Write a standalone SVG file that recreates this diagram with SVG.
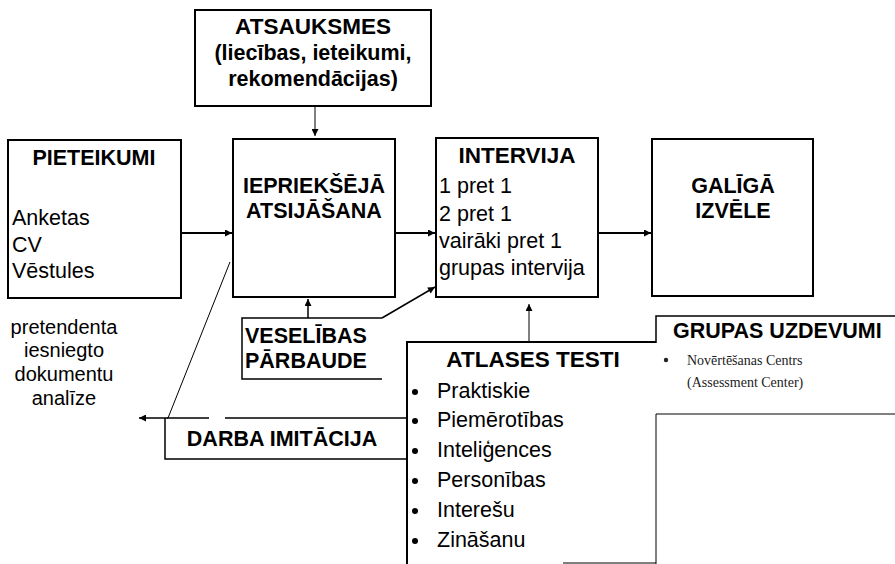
<svg xmlns="http://www.w3.org/2000/svg" width="895" height="564" viewBox="0 0 895 564">
<defs>
<style>
text{font-family:"Liberation Sans",Arial,sans-serif;fill:#000}
.b{font-weight:bold;font-size:21.5px}
.bl{font-weight:bold;font-size:22.5px}
.r{font-size:21.5px}
.rs{font-size:20px}
.c{text-anchor:middle}
.box{fill:#fff;stroke:#000;stroke-width:2}
.ln{fill:none;stroke:#000}
.sm{font-family:"Liberation Serif","Times New Roman",serif;font-size:14px;fill:#222}
</style>
<marker id="ah" viewBox="0 0 10 10" refX="10" refY="5" markerWidth="9" markerHeight="7" markerUnits="userSpaceOnUse" orient="auto"><path d="M0,0 L10,5 L0,10 z" fill="#000"/></marker>
</defs>
<rect width="895" height="564" fill="#fff"/>

<g id="atsauksmes">
<rect class="box" x="195" y="10" width="236" height="96"/>
<text class="bl c" x="313" y="34">ATSAUKSMES</text>
<text class="b c" x="313" y="60">(liecības, ieteikumi,</text>
<text class="b c" x="313" y="86">rekomendācijas)</text>
</g>

<g id="pieteikumi">
<rect class="box" x="8" y="140" width="173" height="158"/>
<text class="b c" x="94" y="165">PIETEIKUMI</text>
<text class="r" x="12" y="225">Anketas</text>
<text class="r" x="12" y="252">CV</text>
<text class="r" x="12" y="278">Vēstules</text>
</g>

<g id="iepriekseja">
<rect class="box" x="233" y="139" width="162" height="158"/>
<text class="b c" x="314" y="193">IEPRIEKŠĒJĀ</text>
<text class="b c" x="314" y="218">ATSIJĀŠANA</text>
</g>

<g id="intervija">
<rect class="box" x="436" y="138" width="162" height="159"/>
<text class="bl c" x="517" y="163">INTERVIJA</text>
<text class="r" x="439" y="193">1 pret 1</text>
<text class="r" x="439" y="221">2 pret 1</text>
<text class="r" x="439" y="248">vairāki pret 1</text>
<text class="r" x="439" y="275">grupas intervija</text>
</g>

<g id="galiga">
<rect class="box" x="652" y="139" width="161" height="157"/>
<text class="b c" x="733" y="193">GALĪGĀ</text>
<text class="b c" x="733" y="218">IZVĒLE</text>
</g>

<g id="veselibas">
<path class="ln" stroke-width="1.5" d="M382,318 H242 V379 H382"/>
<text class="b" x="245" y="343">VESELĪBAS</text>
<text class="b" x="245" y="368">PĀRBAUDE</text>
</g>

<g id="analize">
<text class="rs c" x="64" y="334">pretendenta</text>
<text class="rs c" x="64" y="357">iesniegto</text>
<text class="rs c" x="64" y="381">dokumentu</text>
<text class="rs c" x="64" y="405">analīze</text>
</g>

<g id="darba">
<path class="ln" stroke-width="1.5" d="M167,418 H209 M225,418 H407 M165,418 V459 H407"/>
<text class="b c" x="282" y="446">DARBA IMITĀCIJA</text>
</g>

<g id="atlases">
<path class="ln" stroke-width="2" d="M407,564 V342 H656"/>
<path class="ln" stroke-width="1" d="M563,563 H656"/>
<text class="bl c" x="533" y="367">ATLASES TESTI</text>
<circle cx="415" cy="392" r="3"/>
<text class="r" x="437" y="398">Praktiskie</text>
<circle cx="415" cy="421" r="3"/>
<text class="r" x="437" y="427">Piemērotības</text>
<circle cx="415" cy="451" r="3"/>
<text class="r" x="437" y="457">Inteliģences</text>
<circle cx="415" cy="481" r="3"/>
<text class="r" x="437" y="487">Personības</text>
<circle cx="415" cy="511" r="3"/>
<text class="r" x="437" y="517">Interešu</text>
<circle cx="415" cy="541" r="3"/>
<text class="r" x="437" y="547">Zināšanu</text>
</g>

<g id="grupas">
<path class="ln" stroke-width="1.5" d="M656,343 V316 H895"/>
<text class="b" x="673" y="338">GRUPAS UZDEVUMI</text>
<circle cx="666" cy="360" r="2.2" fill="#222"/>
<text class="sm" x="687" y="365">Novērtēšanas Centrs</text>
<text class="sm" x="687" y="387">(Assessment Center)</text>
</g>

<g id="lower-box">
<path class="ln" stroke="#444" stroke-width="1" d="M656,564 V414 H895"/>
</g>

<g id="connectors">
<line class="ln" stroke-width="1" x1="315" y1="106" x2="315" y2="136" marker-end="url(#ah)"/>
<line class="ln" stroke-width="2" x1="181" y1="233" x2="232" y2="233" marker-end="url(#ah)"/>
<line class="ln" stroke-width="2" x1="395" y1="233" x2="435" y2="233" marker-end="url(#ah)"/>
<line class="ln" stroke-width="2" x1="598" y1="233" x2="651" y2="233" marker-end="url(#ah)"/>
<line class="ln" stroke-width="1.5" x1="308" y1="318" x2="308" y2="299" marker-end="url(#ah)"/>
<line class="ln" stroke-width="1.5" x1="382" y1="318" x2="435" y2="287" marker-end="url(#ah)"/>
<line class="ln" stroke-width="1" x1="529" y1="342" x2="529" y2="304" marker-end="url(#ah)"/>
<line class="ln" stroke-width="1" x1="230" y1="262" x2="168" y2="418"/>
<line class="ln" stroke-width="1.5" x1="168" y1="418" x2="139" y2="418" marker-end="url(#ah)"/>
</g>
</svg>
